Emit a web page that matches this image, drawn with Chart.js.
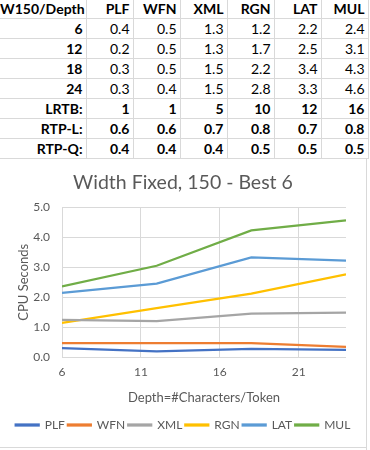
<!DOCTYPE html>
<html>
<head>
<meta charset="utf-8">
<script src="https://cdn.jsdelivr.net/npm/chart.js@4/dist/chart.umd.min.js"></script>
<style>
    html, body { margin: 0; padding: 0; background: #fff; }
    body { width: 370px; height: 450px; position: relative; overflow: hidden; font-family: Lato, "Open Sans", sans-serif; }
    #sheet { position: absolute; left: 0; top: -1px; border-collapse: collapse; table-layout: fixed; width: 368px; }
    #sheet td { border: 1px solid #d9d9d9; height: 19px; padding: 0 3px 0 0; font-size: 14px; line-height: 19px; text-align: right; color: #000; white-space: nowrap; overflow: hidden; }
    #sheet td:first-child { border-left: none; }
    #sheet tr:first-child td { border-top: none; }
    #sheet .b { font-weight: bold; }
    #chartBox { position: absolute; left: 0; top: 160px; width: 366px; height: 287px; background: #fff; }
    .edge { position: absolute; background: #d9d9d9; }
</style>
</head>
<body>
<table id="sheet">
    <colgroup>
        <col style="width:86px"><col style="width:47px"><col style="width:47px"><col style="width:47px">
        <col style="width:47px"><col style="width:47px"><col style="width:47px">
    </colgroup>
    <tbody></tbody>
</table>
<div id="chartBox"><canvas id="cpuChart"></canvas></div>
<div class="edge" style="left:366px; top:159px; width:1px; height:291px;"></div>
<div class="edge" style="left:0; top:447px; width:367px; height:1px;"></div>
<script>
// table cells, as shown in the sheet
const tableCorner = 'W150/Depth';
const series = ['PLF', 'WFN', 'XML', 'RGN', 'LAT', 'MUL'];
const tableRowLabels = ['6', '12', '18', '24', 'LRTB:', 'RTP-L:', 'RTP-Q:'];
const tableRows = [
    ['0.4', '0.5', '1.3', '1.2', '2.2', '2.4'],
    ['0.2', '0.5', '1.3', '1.7', '2.5', '3.1'],
    ['0.3', '0.5', '1.5', '2.2', '3.4', '4.3'],
    ['0.3', '0.4', '1.5', '2.8', '3.3', '4.6'],
    ['1', '1', '5', '10', '12', '16'],
    ['0.6', '0.6', '0.7', '0.8', '0.7', '0.8'],
    ['0.4', '0.4', '0.4', '0.5', '0.5', '0.5']
];
const boldRows = [4, 5, 6];

// chart values
const depths = [6, 12, 18, 24];
const plf = [0.30, 0.19, 0.27, 0.24];
const wfn = [0.46, 0.46, 0.46, 0.34];
const xml = [1.24, 1.20, 1.45, 1.48];
const rgn = [1.14, 1.63, 2.12, 2.76];
const lat = [2.14, 2.45, 3.33, 3.22];
const mul = [2.36, 3.05, 4.23, 4.57];
const colors = ['#4472C4', '#ED7D31', '#A5A5A5', '#FFC000', '#5B9BD5', '#70AD47'];
const xTicks = [6, 11, 16, 21];
const yTicks = [0, 1, 2, 3, 4, 5];

function buildTable() {
    const body = document.querySelector('#sheet tbody');
    const head = document.createElement('tr');
    [tableCorner].concat(series).forEach(text => {
        const cell = document.createElement('td');
        cell.className = 'b';
        cell.textContent = text;
        head.appendChild(cell);
    });
    body.appendChild(head);

    tableRows.forEach((vals, i) => {
        const row = document.createElement('tr');
        const label = document.createElement('td');
        label.className = 'b';
        label.textContent = tableRowLabels[i];
        row.appendChild(label);
        vals.forEach(v => {
            const cell = document.createElement('td');
            if (boldRows.includes(i)) cell.className = 'b';
            cell.textContent = v;
            row.appendChild(cell);
        });
        body.appendChild(row);
    });
}

function initChart() {
    const values = [plf, wfn, xml, rgn, lat, mul];
    const datasets = series.map((name, i) => ({
        label: name,
        data: depths.map((d, j) => ({ x: d, y: values[i][j] })),
        borderColor: colors[i],
        backgroundColor: colors[i],
        borderWidth: 2.25,
        pointRadius: 0,
        tension: 0,
        showLine: true
    }));

    const axisFont = { family: 'Lato', size: 12 };
    const grey = '#595959';

    new Chart(document.getElementById('cpuChart'), {
        type: 'scatter',
        data: { datasets: datasets },
        options: {
            responsive: true,
            maintainAspectRatio: false,
            animation: false,
            layout: { padding: { left: 0, right: 0, top: 0, bottom: 6 } },
            plugins: {
                title: {
                    display: true,
                    text: 'Width Fixed, 150 - Best 6',
                    color: grey,
                    font: { family: 'Lato', size: 19.5, weight: 'normal' },
                    padding: { top: 11, bottom: 13 }
                },
                legend: {
                    position: 'bottom',
                    labels: {
                        color: grey,
                        font: { family: 'Lato', size: 12 },
                        boxWidth: 23,
                        boxHeight: 1,
                        padding: 3
                    }
                },
                tooltip: { enabled: false }
            },
            scales: {
                x: {
                    type: 'linear',
                    min: 6,
                    max: 24,
                    afterBuildTicks: axis => { axis.ticks = xTicks.map(v => ({ value: v })); },
                    grid: { color: '#d9d9d9', drawTicks: false },
                    border: { display: false },
                    ticks: { color: grey, font: axisFont, padding: 8 },
                    title: {
                        display: true,
                        text: 'Depth=#Characters/Token',
                        color: grey,
                        font: { family: 'Lato', size: 13 },
                        padding: { top: 3, bottom: 10 }
                    }
                },
                y: {
                    min: 0,
                    max: 5,
                    afterBuildTicks: axis => { axis.ticks = yTicks.map(v => ({ value: v })); },
                    afterFit: scale => { scale.width = 62; },
                    grid: { color: '#d9d9d9', drawTicks: false },
                    border: { display: false },
                    ticks: { color: grey, font: axisFont, padding: 12, callback: v => v.toFixed(1) },
                    title: {
                        display: true,
                        text: 'CPU Seconds',
                        color: grey,
                        font: { family: 'Lato', size: 13 },
                        padding: { top: 16, bottom: 2 }
                    }
                },
                // empty axis on the right, only keeps the plot clear of the edge
                spacer: {
                    position: 'right',
                    grid: { display: false },
                    border: { display: false },
                    ticks: { display: false },
                    afterFit: scale => { scale.width = 20; }
                }
            }
        }
    });
}

buildTable();
initChart();
</script>
</body>
</html>
